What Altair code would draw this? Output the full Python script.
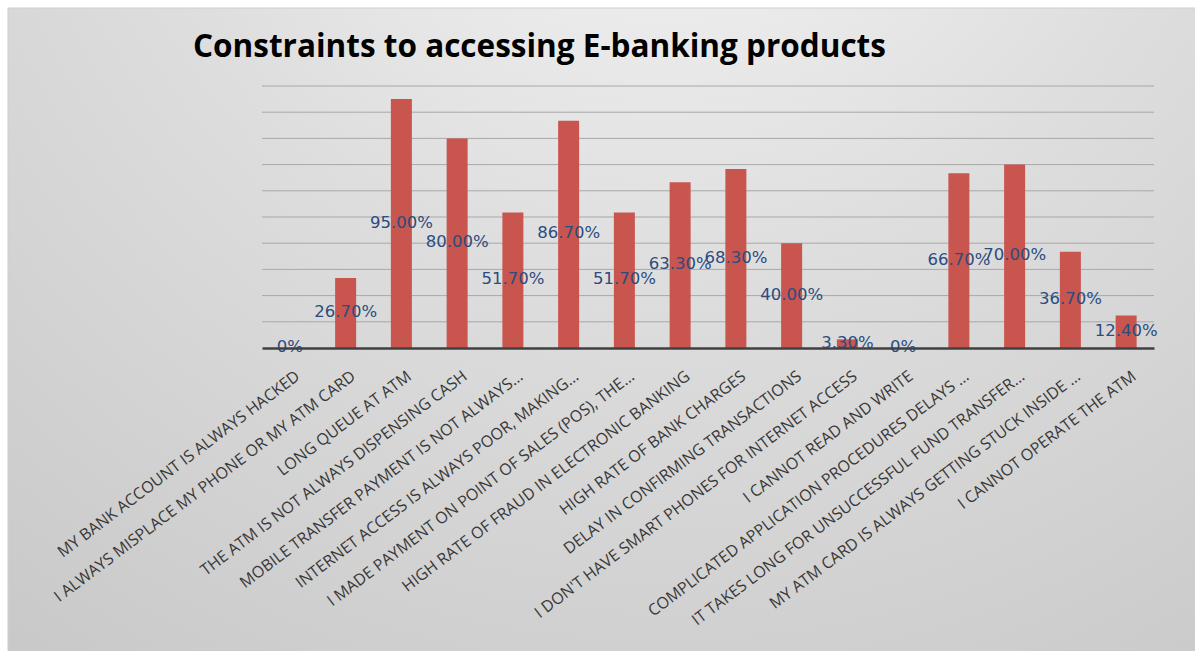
import altair as alt
import pandas as pd

categories = [
    "MY BANK ACCOUNT IS ALWAYS HACKED",
    "I ALWAYS MISPLACE MY PHONE OR MY ATM CARD",
    "LONG QUEUE AT ATM",
    "THE ATM IS NOT ALWAYS DISPENSING CASH",
    "MOBILE TRANSFER PAYMENT IS NOT ALWAYS…",
    "INTERNET ACCESS IS ALWAYS POOR, MAKING…",
    "I MADE PAYMENT ON POINT OF SALES (POS), THE…",
    "HIGH RATE OF FRAUD IN ELECTRONIC BANKING",
    "HIGH RATE OF BANK CHARGES",
    "DELAY IN CONFIRMING TRANSACTIONS",
    "I DON'T HAVE SMART PHONES FOR INTERNET ACCESS",
    "I CANNOT READ AND WRITE",
    "COMPLICATED APPLICATION  PROCEDURES DELAYS …",
    "IT TAKES LONG FOR UNSUCCESSFUL FUND TRANSFER…",
    "MY ATM CARD IS ALWAYS GETTING STUCK INSIDE …",
    "I CANNOT OPERATE THE ATM",
]
values = [0, 26.7, 95.0, 80.0, 51.7, 86.7, 51.7, 63.3, 68.3, 40.0, 3.3, 0, 66.7, 70.0, 36.7, 12.4]
gridlines = [10, 20, 30, 40, 50, 60, 70, 80, 90, 100]

W, H = 892, 262
PAD = {"left": 262, "top": 86, "right": 41, "bottom": 303}

df = pd.DataFrame({"label": categories, "value": values})
df["mid"] = df["value"] / 2
df["text"] = ["0%" if v == 0 else f"{v:.2f}%" for v in values]

yscale = alt.Scale(domain=[0, 100], nice=False)

bg = alt.Chart(pd.DataFrame({"a": [0]})).mark_rect(
    color={
        "gradient": "radial",
        "x1": 0.55, "y1": 0.0, "r1": 0.0,
        "x2": 0.55, "y2": 0.0, "r2": 1.0,
        "stops": [
            {"offset": 0.0, "color": "#f9f9f9"},
            {"offset": 0.45, "color": "#dedede"},
            {"offset": 1.0, "color": "#c6c6c6"},
        ],
    },
    stroke="#cfcfcf",
    strokeWidth=1,
).encode(
    x=alt.value(-254), x2=alt.value(W + PAD["right"] + 5),
    y=alt.value(-78), y2=alt.value(H + PAD["bottom"] + 5),
)

grid = alt.Chart(pd.DataFrame({"g": gridlines})).mark_rule(
    color="#a8a8a8", strokeWidth=1
).encode(
    y=alt.Y("g:Q", scale=yscale, axis=None),
    x=alt.value(0), x2=alt.value(W),
)

xenc = alt.X(
    "label:N",
    sort=categories,
    scale=alt.Scale(paddingInner=0, paddingOuter=0),
    axis=alt.Axis(
        title=None,
        labelAngle=-37,
        labelAlign="right",
        labelBaseline="middle",
        labelPadding=26,
        labelOffset=8,
        labelLimit=0,
        labelOverlap=False,
        labelFont="Open Sans",
        labelFontSize=16,
        labelColor="#383838",
        ticks=False,
        domainColor="#404040",
        domainWidth=2.5,
        zindex=1,
    ),
)

bars = alt.Chart(df).mark_bar(width=21, color="#C9554F").encode(
    x=xenc,
    y=alt.Y("value:Q", scale=yscale, axis=None),
)

labels = alt.Chart(df).mark_text(
    font="DejaVu Sans", fontSize=16.5, color="#2B4C7E", align="center", baseline="middle", dy=-1
).encode(
    x=alt.X("label:N", sort=categories),
    y=alt.Y("mid:Q", scale=yscale, axis=None),
    text="text:N",
)

chart = alt.layer(bg, grid, bars, labels).properties(
    width=W,
    height=H,
    padding=PAD,
    autosize=alt.AutoSizeParams(type="none"),
    background="white",
    title=alt.TitleParams(
        text="Constraints to accessing E-banking products",
        font="Open Sans",
        fontSize=31.5,
        fontWeight="bold",
        color="#000000",
        anchor="start",
        frame="group",
        dx=-69,
        dy=56,
        offset=0,
    ),
).configure_view(stroke=None)

chart.save("out.html", embed_options={"renderer": "svg", "actions": False})
